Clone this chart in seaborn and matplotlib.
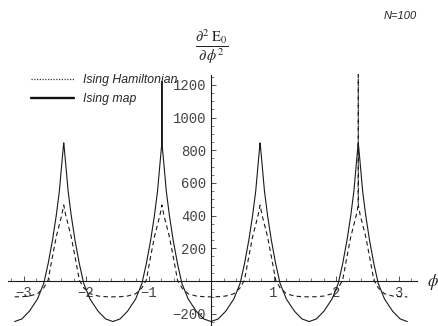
import matplotlib
matplotlib.use("Agg")
import matplotlib.pyplot as plt
import pandas as pd
import seaborn as sns
from matplotlib.lines import Line2D
from matplotlib.ticker import FixedLocator

# ---- data ----
phi = [
    -3.1416,
    -3.0262, -2.9062, -2.7762, -2.6762, -2.6062, -2.5362, -2.4762, -2.4262, -2.3862, -2.3582,
    -2.3562,
    -2.3542, -2.3262, -2.2862, -2.2362, -2.1762, -2.1062, -2.0362, -1.9362, -1.8062, -1.6862,
    -1.5708,
    -1.4554, -1.3354, -1.2054, -1.1054, -1.0354, -0.9654, -0.9054, -0.8554, -0.8154, -0.7874,
    -0.7854,
    -0.7834, -0.7554, -0.7154, -0.6654, -0.6054, -0.5354, -0.4654, -0.3654, -0.2354, -0.1154,
    0.0,
    0.1154, 0.2354, 0.3654, 0.4654, 0.5354, 0.6054, 0.6654, 0.7154, 0.7554, 0.7834,
    0.7854,
    0.7874, 0.8154, 0.8554, 0.9054, 0.9654, 1.0354, 1.1054, 1.2054, 1.3354, 1.4554,
    1.5708,
    1.6862, 1.8062, 1.9362, 2.0362, 2.1062, 2.1762, 2.2362, 2.2862, 2.3262, 2.3542,
    2.3562,
    2.3582, 2.3862, 2.4262, 2.4762, 2.5362, 2.6062, 2.6762, 2.7762, 2.9062, 3.0262,
    3.1416,
]

ising_map = [
    -248,
    -232, -185, -110, -15, 105, 250, 400, 550, 722, 840,
    845,
    840, 722, 550, 400, 250, 105, -15, -110, -185, -232,
    -248,
    -232, -185, -110, -15, 105, 250, 400, 550, 722, 840,
    1220,
    840, 722, 550, 400, 250, 105, -15, -110, -185, -232,
    -248,
    -232, -185, -110, -15, 105, 250, 400, 550, 722, 840,
    845,
    840, 722, 550, 400, 250, 105, -15, -110, -185, -232,
    -248,
    -232, -185, -110, -15, 105, 250, 400, 550, 722, 840,
    845,
    840, 722, 550, 400, 250, 105, -15, -110, -185, -232,
    -248,
]

ising_hamiltonian = [
    -97,
    -96, -92, -78, -42, 5, 150, 270, 345, 405, 462,
    465,
    462, 405, 345, 270, 150, 5, -42, -78, -92, -96,
    -97,
    -96, -92, -78, -42, 5, 150, 270, 345, 405, 462,
    465,
    462, 405, 345, 270, 150, 5, -42, -78, -92, -96,
    -97,
    -96, -92, -78, -42, 5, 150, 270, 345, 405, 462,
    465,
    462, 405, 345, 270, 150, 5, -42, -78, -92, -96,
    -97,
    -96, -92, -78, -42, 5, 150, 270, 345, 405, 462,
    1262,
    462, 405, 345, 270, 150, 5, -42, -78, -92, -96,
    -97,
]

series_names = ["Ising Hamiltonian", "Ising map"]
x_major_ticks = [-3, -2, -1, 1, 2, 3]
x_minor_ticks = [round(-3.2 + 0.2 * i, 1) for i in range(33)]
y_major_ticks = [-200, 200, 400, 600, 800, 1000, 1200]
y_minor_ticks = list(range(-250, 1251, 50))
annotation_text = "N=100"

# ---- build long-form table ----
df = pd.concat([
    pd.DataFrame({"phi": phi, "value": ising_hamiltonian, "series": series_names[0]}),
    pd.DataFrame({"phi": phi, "value": ising_map, "series": series_names[1]}),
], ignore_index=True)

sns.set_style("white")
plt.rcParams["mathtext.fontset"] = "stix"

W, H = 438, 326
fig = plt.figure(figsize=(W / 100, H / 100), dpi=100)
ax = fig.add_axes([0, 0, 1, 1])

sns.lineplot(
    data=df, x="phi", y="value", style="series",
    dashes={series_names[0]: (4, 3), series_names[1]: ""},
    color="#1a1a1a", linewidth=0.8, errorbar=None, legend=False,
    sort=False, ax=ax,
)

# pixel mapping: x0 pixel 211, 62.5 px/unit ; y0 pixel 281, 0.1635 px/unit
ax.set_xlim(-211 / 62.5, (W - 211) / 62.5)
ax.set_ylim((281 - H) / 0.1635, 281 / 0.1635)
ax.set_xlabel("")
ax.set_ylabel("")
ax.set_facecolor("white")

for s in ["top", "right"]:
    ax.spines[s].set_visible(False)
ax.spines["left"].set_position(("data", 0))
ax.spines["bottom"].set_position(("data", 0))
ax.spines["left"].set_bounds((281 - H) / 0.1635, 1262)
ax.spines["bottom"].set_bounds((8 - 211) / 62.5, (417 - 211) / 62.5)
for s in ["left", "bottom"]:
    ax.spines[s].set_linewidth(0.8)
    ax.spines[s].set_color("#1a1a1a")

tick_font = {"family": "Liberation Mono", "size": 10}
ax.set_xticks(x_major_ticks)
ax.set_xticklabels([f"{v}".replace("-", "\u2212") for v in x_major_ticks], fontdict=tick_font)
ax.set_yticks(y_major_ticks)
ax.set_yticklabels([f"{v}".replace("-", "\u2212") for v in y_major_ticks], fontdict=tick_font)
ax.xaxis.set_minor_locator(FixedLocator(x_minor_ticks))
ax.yaxis.set_minor_locator(FixedLocator(y_minor_ticks))

ax.tick_params(which="major", direction="in", length=3.5, width=0.6, color="#333333",
               labelcolor="#444444", pad=3.5)
ax.tick_params(which="minor", direction="in", length=2, width=0.5, color="#444444")
ax.tick_params(axis="x", which="both", bottom=True, top=False)
ax.tick_params(axis="y", which="both", left=True, right=False)

# axis labels
fig.text(212 / W, 1 - 47 / H, r"$\dfrac{\partial^2\ \mathrm{E}_0}{\partial\,\phi^2}$",
         ha="center", va="center", fontsize=10.5, color="#222222")
fig.text(433 / W, 1 - 282 / H, r"$\phi$", ha="center", va="center",
         fontsize=12, color="#222222")
fig.text(400 / W, 1 - 16 / H, annotation_text, ha="center", va="center",
         fontsize=8, style="italic", family="Liberation Sans", color="#222222")

# legend
handles = [
    Line2D([], [], color="#333333", linestyle=(0, (1, 1.2)), linewidth=0.9),
    Line2D([], [], color="#111111", linestyle="-", linewidth=1.7),
]
leg = ax.legend(
    handles, series_names, loc="upper left",
    bbox_to_anchor=(31 / W, 1 - 74 / H), bbox_transform=fig.transFigure,
    frameon=False, borderpad=0, borderaxespad=0,
    handlelength=3.5, handletextpad=0.75, labelspacing=0.6,
    prop={"family": "Liberation Sans", "style": "italic", "size": 8.8},
)

fig.savefig("out.png", dpi=100)
